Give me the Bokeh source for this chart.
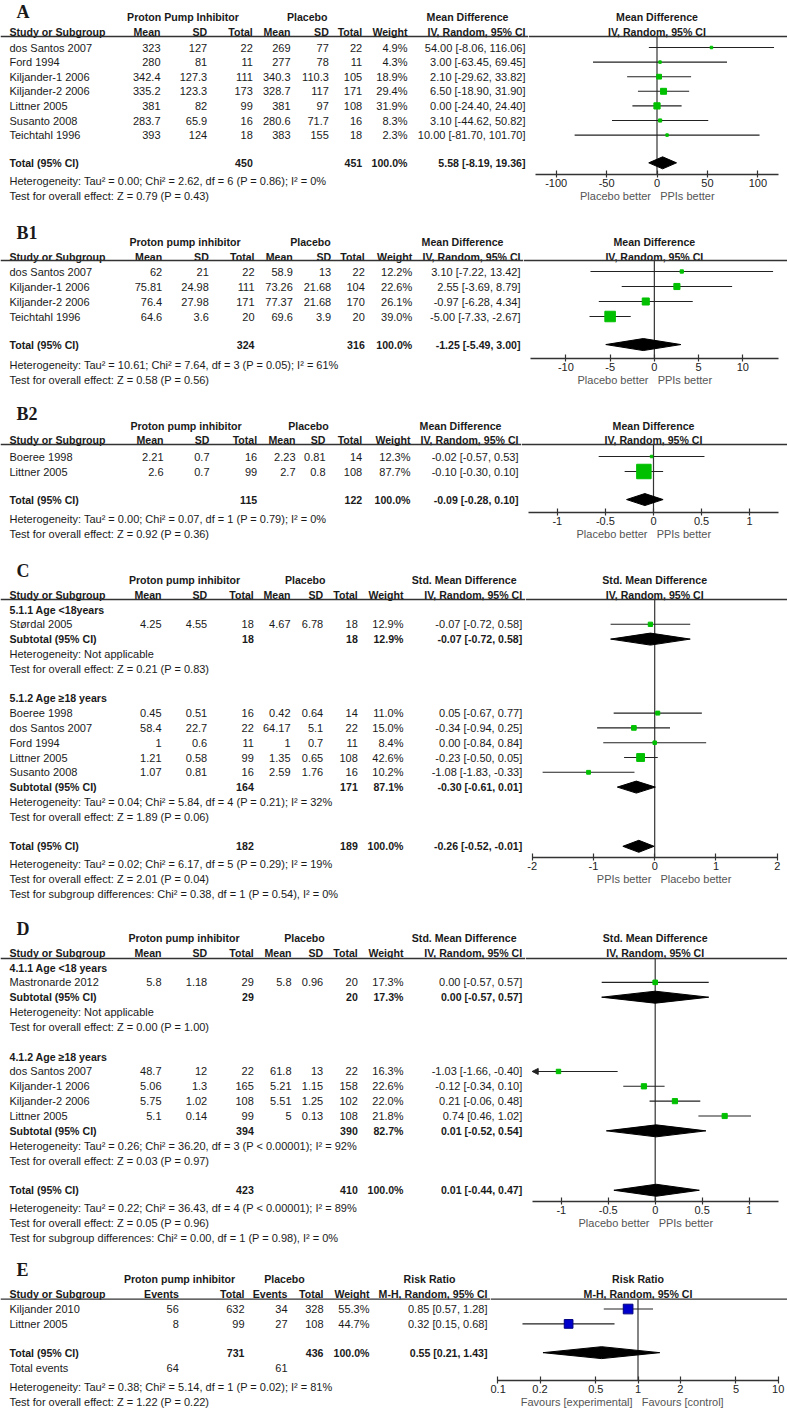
import numpy as np
from bokeh.plotting import figure
from bokeh.models import Range1d, Span, LinearAxis, LogAxis, FixedTicker, Title
from bokeh.layouts import column, row
from bokeh.core.properties import value
from bokeh.embed import file_html
from bokeh.resources import INLINE

# ======================= DATA =======================
# ---- Panel A ----
A_studies = ["dos Santos 2007", "Ford 1994", "Kiljander-1 2006", "Kiljander-2 2006",
             "Littner 2005", "Susanto 2008", "Teichtahl 1996"]
A_ppi_mean = [323, 280, 342.4, 335.2, 381, 283.7, 393]
A_ppi_sd = [127, 81, 127.3, 123.3, 82, 65.9, 124]
A_ppi_n = [22, 11, 111, 173, 99, 16, 18]
A_pla_mean = [269, 277, 340.3, 328.7, 381, 280.6, 383]
A_pla_sd = [77, 78, 110.3, 117, 97, 71.7, 155]
A_pla_n = [22, 11, 105, 171, 108, 16, 18]
A_weight = [4.9, 4.3, 18.9, 29.4, 31.9, 8.3, 2.3]
A_md = [54.00, 3.00, 2.10, 6.50, 0.00, 3.10, 10.00]
A_lo = [-8.06, -63.45, -29.62, -18.90, -24.40, -44.62, -81.70]
A_hi = [116.06, 69.45, 33.82, 31.90, 24.40, 50.82, 101.70]
A_total = [450, 451, 100.0, 5.58, -8.19, 19.36]
A_notes = ["Heterogeneity: Tau² = 0.00; Chi² = 2.62, df = 6 (P = 0.86); I² = 0%",
           "Test for overall effect: Z = 0.79 (P = 0.43)"]
A_ticks = [-100, -50, 0, 50, 100]
A_tick_labels = ["-100", "-50", "0", "50", "100"]
A_axis_label = ("Placebo better", "PPIs better")

# ---- Panel B1 ----
B1_studies = ["dos Santos 2007", "Kiljander-1 2006", "Kiljander-2 2006", "Teichtahl 1996"]
B1_ppi_mean = [62, 75.81, 76.4, 64.6]
B1_ppi_sd = [21, 24.98, 27.98, 3.6]
B1_ppi_n = [22, 111, 171, 20]
B1_pla_mean = [58.9, 73.26, 77.37, 69.6]
B1_pla_sd = [13, 21.68, 21.68, 3.9]
B1_pla_n = [22, 104, 170, 20]
B1_weight = [12.2, 22.6, 26.1, 39.0]
B1_md = [3.10, 2.55, -0.97, -5.00]
B1_lo = [-7.22, -3.69, -6.28, -7.33]
B1_hi = [13.42, 8.79, 4.34, -2.67]
B1_total = [324, 316, 100.0, -1.25, -5.49, 3.00]
B1_notes = ["Heterogeneity: Tau² = 10.61; Chi² = 7.64, df = 3 (P = 0.05); I² = 61%",
            "Test for overall effect: Z = 0.58 (P = 0.56)"]
B1_ticks = [-10, -5, 0, 5, 10]
B1_tick_labels = ["-10", "-5", "0", "5", "10"]
B1_axis_label = ("Placebo better", "PPIs better")

# ---- Panel B2 ----
B2_studies = ["Boeree 1998", "Littner 2005"]
B2_ppi_mean = [2.21, 2.6]
B2_ppi_sd = [0.7, 0.7]
B2_ppi_n = [16, 99]
B2_pla_mean = [2.23, 2.7]
B2_pla_sd = [0.81, 0.8]
B2_pla_n = [14, 108]
B2_weight = [12.3, 87.7]
B2_md = [-0.02, -0.10]
B2_lo = [-0.57, -0.30]
B2_hi = [0.53, 0.10]
B2_total = [115, 122, 100.0, -0.09, -0.28, 0.10]
B2_notes = ["Heterogeneity: Tau² = 0.00; Chi² = 0.07, df = 1 (P = 0.79); I² = 0%",
            "Test for overall effect: Z = 0.92 (P = 0.36)"]
B2_ticks = [-1, -0.5, 0, 0.5, 1]
B2_tick_labels = ["-1", "-0.5", "0", "0.5", "1"]
B2_axis_label = ("Placebo better", "PPIs better")

# ---- Panel C ----
C1_heading = "5.1.1 Age <18years"
C1_studies = ["Størdal 2005"]
C1_ppi_mean = [4.25]
C1_ppi_sd = [4.55]
C1_ppi_n = [18]
C1_pla_mean = [4.67]
C1_pla_sd = [6.78]
C1_pla_n = [18]
C1_weight = [12.9]
C1_smd = [-0.07]
C1_lo = [-0.72]
C1_hi = [0.58]
C1_sub = [18, 18, 12.9, -0.07, -0.72, 0.58]
C1_notes = ["Heterogeneity: Not applicable", "Test for overall effect: Z = 0.21 (P = 0.83)"]
C2_heading = "5.1.2 Age ≥18 years"
C2_studies = ["Boeree 1998", "dos Santos 2007", "Ford 1994", "Littner 2005", "Susanto 2008"]
C2_ppi_mean = [0.45, 58.4, 1, 1.21, 1.07]
C2_ppi_sd = [0.51, 22.7, 0.6, 0.58, 0.81]
C2_ppi_n = [16, 22, 11, 99, 16]
C2_pla_mean = [0.42, 64.17, 1, 1.35, 2.59]
C2_pla_sd = [0.64, 5.1, 0.7, 0.65, 1.76]
C2_pla_n = [14, 22, 11, 108, 16]
C2_weight = [11.0, 15.0, 8.4, 42.6, 10.2]
C2_smd = [0.05, -0.34, 0.00, -0.23, -1.08]
C2_lo = [-0.67, -0.94, -0.84, -0.50, -1.83]
C2_hi = [0.77, 0.25, 0.84, 0.05, -0.33]
C2_sub = [164, 171, 87.1, -0.30, -0.61, 0.01]
C2_notes = ["Heterogeneity: Tau² = 0.04; Chi² = 5.84, df = 4 (P = 0.21); I² = 32%",
            "Test for overall effect: Z = 1.89 (P = 0.06)"]
C_total = [182, 189, 100.0, -0.26, -0.52, -0.01]
C_notes = ["Heterogeneity: Tau² = 0.02; Chi² = 6.17, df = 5 (P = 0.29); I² = 19%",
           "Test for overall effect: Z = 2.01 (P = 0.04)",
           "Test for subgroup differences: Chi² = 0.38, df = 1 (P = 0.54), I² = 0%"]
C_ticks = [-2, -1, 0, 1, 2]
C_tick_labels = ["-2", "-1", "0", "1", "2"]
C_axis_label = ("PPIs better", "Placebo better")

# ---- Panel D ----
D1_heading = "4.1.1 Age <18 years"
D1_studies = ["Mastronarde 2012"]
D1_ppi_mean = [5.8]
D1_ppi_sd = [1.18]
D1_ppi_n = [29]
D1_pla_mean = [5.8]
D1_pla_sd = [0.96]
D1_pla_n = [20]
D1_weight = [17.3]
D1_smd = [0.00]
D1_lo = [-0.57]
D1_hi = [0.57]
D1_sub = [29, 20, 17.3, 0.00, -0.57, 0.57]
D1_notes = ["Heterogeneity: Not applicable", "Test for overall effect: Z = 0.00 (P = 1.00)"]
D2_heading = "4.1.2 Age ≥18 years"
D2_studies = ["dos Santos 2007", "Kiljander-1 2006", "Kiljander-2 2006", "Littner 2005"]
D2_ppi_mean = [48.7, 5.06, 5.75, 5.1]
D2_ppi_sd = [12, 1.3, 1.02, 0.14]
D2_ppi_n = [22, 165, 108, 99]
D2_pla_mean = [61.8, 5.21, 5.51, 5]
D2_pla_sd = [13, 1.15, 1.25, 0.13]
D2_pla_n = [22, 158, 102, 108]
D2_weight = [16.3, 22.6, 22.0, 21.8]
D2_smd = [-1.03, -0.12, 0.21, 0.74]
D2_lo = [-1.66, -0.34, -0.06, 0.46]
D2_hi = [-0.40, 0.10, 0.48, 1.02]
D2_sub = [394, 390, 82.7, 0.01, -0.52, 0.54]
D2_notes = ["Heterogeneity: Tau² = 0.26; Chi² = 36.20, df = 3 (P < 0.00001); I² = 92%",
            "Test for overall effect: Z = 0.03 (P = 0.97)"]
D_total = [423, 410, 100.0, 0.01, -0.44, 0.47]
D_notes = ["Heterogeneity: Tau² = 0.22; Chi² = 36.43, df = 4 (P < 0.00001); I² = 89%",
           "Test for overall effect: Z = 0.05 (P = 0.96)",
           "Test for subgroup differences: Chi² = 0.00, df = 1 (P = 0.98), I² = 0%"]
D_ticks = [-1, -0.5, 0, 0.5, 1]
D_tick_labels = ["-1", "-0.5", "0", "0.5", "1"]
D_axis_label = ("Placebo better", "PPIs better")

# ---- Panel E ----
E_studies = ["Kiljander 2010", "Littner 2005"]
E_ppi_events = [56, 8]
E_ppi_total = [632, 99]
E_pla_events = [34, 27]
E_pla_total = [328, 108]
E_weight = [55.3, 44.7]
E_rr = [0.85, 0.32]
E_lo = [0.57, 0.15]
E_hi = [1.28, 0.68]
E_total = [731, 436, 100.0, 0.55, 0.21, 1.43]
E_total_events = [64, 61]
E_notes = ["Heterogeneity: Tau² = 0.38; Chi² = 5.14, df = 1 (P = 0.02); I² = 81%",
           "Test for overall effect: Z = 1.22 (P = 0.22)"]
E_ticks = [0.1, 0.2, 0.5, 1, 2, 5, 10]
E_tick_labels = ["0.1", "0.2", "0.5", "1", "2", "5", "10"]
E_axis_label = ("Favours [experimental]", "Favours [control]")

# ======================= STYLE / LAYOUT =======================
FONT = "Liberation Sans"
SERIF = "Liberation Serif"
FS = "11px"
FSB = "10.6px"
TXT = "#1a1a1a"
RULE = "#333333"
GREEN = "#00C000"
BLUE = "#0000CC"
TOTAL_W = 787
NB = "\u00a0"
FOOT_GAP = 1.3


def g(v):
    return f"{v:g}"


def ci(e, l, h):
    return f"{e:.2f} [{l:.2f}, {h:.2f}]"


def pct(w):
    return f"{w:.1f}%"


def cont_cols(m1, s1, n1, m2, s2, n2):
    return [[g(a) for a in m1], [g(a) for a in s1], [str(a) for a in n1],
            [g(a) for a in m2], [g(a) for a in s2], [str(a) for a in n2]]


def studies(y0, rh, start, names, cols, weight, est, lo, hi):
    out = []
    for i, nm in enumerate(names):
        out.append(dict(y=y0 + (start + i) * rh, label=nm, bold=False,
                        cells=[c[i] for c in cols], weight=pct(weight[i]),
                        val=ci(est[i], lo[i], hi[i]),
                        mark=("sq", est[i], lo[i], hi[i], weight[i])))
    return out


def summary(y, label, ncols, p1, p2, tot):
    cells = [""] * ncols
    cells[p1] = str(tot[0])
    cells[p2] = str(tot[1])
    return dict(y=y, label=label, bold=True, cells=cells, weight=pct(tot[2]),
                val=ci(tot[3], tot[4], tot[5]), mark=("dia", tot[3], tot[4], tot[5]))


def note(y, text, bold=False, cells=None):
    return dict(y=y, label=text, bold=bold, cells=cells, weight=None, val=None, mark=None)


def foot(text):
    # line printed under the axis level (goes into the table's lower margin)
    return dict(y=None, label=text, bold=False, cells=None, weight=None, val=None, mark=None, foot=True)


# ---- rows (positions are layout slots) ----
y0, rh = 47, 14.6
A_rows = studies(y0, rh, 0, A_studies, cont_cols(A_ppi_mean, A_ppi_sd, A_ppi_n, A_pla_mean, A_pla_sd, A_pla_n),
                 A_weight, A_md, A_lo, A_hi)
A_rows.append(summary(y0 + 7.9 * rh, "Total (95% CI)", 6, 2, 5, A_total))
A_rows += [foot(t) for t in A_notes]

y0, rh = 271, 15
B1_rows = studies(y0, rh, 0, B1_studies, cont_cols(B1_ppi_mean, B1_ppi_sd, B1_ppi_n, B1_pla_mean, B1_pla_sd, B1_pla_n),
                  B1_weight, B1_md, B1_lo, B1_hi)
B1_rows.append(summary(y0 + 4.87 * rh, "Total (95% CI)", 6, 2, 5, B1_total))
B1_rows += [foot(t) for t in B1_notes]

y0, rh = 456, 15
B2_rows = studies(y0, rh, 0, B2_studies, cont_cols(B2_ppi_mean, B2_ppi_sd, B2_ppi_n, B2_pla_mean, B2_pla_sd, B2_pla_n),
                  B2_weight, B2_md, B2_lo, B2_hi)
B2_rows.append(summary(y0 + 2.87 * rh, "Total (95% CI)", 6, 2, 5, B2_total))
B2_rows += [foot(t) for t in B2_notes]

y0, rh = 609, 14.8
C_rows = [note(y0, C1_heading, bold=True)]
C_rows += studies(y0, rh, 1, C1_studies, cont_cols(C1_ppi_mean, C1_ppi_sd, C1_ppi_n, C1_pla_mean, C1_pla_sd, C1_pla_n),
                  C1_weight, C1_smd, C1_lo, C1_hi)
C_rows.append(summary(y0 + 2 * rh, "Subtotal (95% CI)", 6, 2, 5, C1_sub))
C_rows += [note(y0 + 3 * rh, C1_notes[0]), note(y0 + 4 * rh, C1_notes[1])]
C_rows.append(note(y0 + 6 * rh, C2_heading, bold=True))
C_rows += studies(y0, rh, 7, C2_studies, cont_cols(C2_ppi_mean, C2_ppi_sd, C2_ppi_n, C2_pla_mean, C2_pla_sd, C2_pla_n),
                  C2_weight, C2_smd, C2_lo, C2_hi)
C_rows.append(summary(y0 + 12 * rh, "Subtotal (95% CI)", 6, 2, 5, C2_sub))
C_rows += [note(y0 + 13 * rh, C2_notes[0]), note(y0 + 14 * rh, C2_notes[1])]
C_rows.append(summary(y0 + 16 * rh, "Total (95% CI)", 6, 2, 5, C_total))
C_rows += [foot(t) for t in C_notes]

y0, rh = 967, 14.85
D_rows = [note(y0, D1_heading, bold=True)]
D_rows += studies(y0, rh, 1, D1_studies, cont_cols(D1_ppi_mean, D1_ppi_sd, D1_ppi_n, D1_pla_mean, D1_pla_sd, D1_pla_n),
                  D1_weight, D1_smd, D1_lo, D1_hi)
D_rows.append(summary(y0 + 2 * rh, "Subtotal (95% CI)", 6, 2, 5, D1_sub))
D_rows += [note(y0 + 3 * rh, D1_notes[0]), note(y0 + 4 * rh, D1_notes[1])]
D_rows.append(note(y0 + 6 * rh, D2_heading, bold=True))
D_rows += studies(y0, rh, 7, D2_studies, cont_cols(D2_ppi_mean, D2_ppi_sd, D2_ppi_n, D2_pla_mean, D2_pla_sd, D2_pla_n),
                  D2_weight, D2_smd, D2_lo, D2_hi)
D_rows.append(summary(y0 + 11 * rh, "Subtotal (95% CI)", 6, 2, 5, D2_sub))
D_rows += [note(y0 + 12 * rh, D2_notes[0]), note(y0 + 13 * rh, D2_notes[1])]
D_rows.append(summary(y0 + 15 * rh, "Total (95% CI)", 6, 2, 5, D_total))
D_rows += [foot(t) for t in D_notes]

y0, rh = 1309, 15
E_cols = [[str(a) for a in E_ppi_events], [str(a) for a in E_ppi_total],
          [str(a) for a in E_pla_events], [str(a) for a in E_pla_total]]
E_rows = studies(y0, rh, 0, E_studies, E_cols, E_weight, E_rr, E_lo, E_hi)
E_rows.append(summary(y0 + 2.93 * rh, "Total (95% CI)", 4, 1, 3, E_total))
E_rows.append(note(y0 + 3.93 * rh, "Total events", cells=[str(E_total_events[0]), "", str(E_total_events[1]), ""]))
E_rows += [foot(t) for t in E_notes]

CONT_NAMES = ["Mean", "SD", "Total", "Mean", "SD", "Total"]

panels = [
    dict(name="A", band=(0, 207), label_y=11, grp_y=16.7, col_y=31.7, rule_y=36, axis_y=174,
         split=528, frame=(535, 778), nominal=(-120.5, 120.5), log=False, null=0,
         ticks=A_ticks, tick_labels=A_tick_labels, axis_label=A_axis_label, axis_center=647.5,
         size=(1.1, 0.5), color=GREEN, cols=[160, 206.7, 252.3, 290, 328.3, 361.7], col_names=CONT_NAMES,
         weight_x=407, val_x=525, grp_x=(182.5, 306.7), grp=("Proton Pump Inhibitor", "Placebo"),
         eff=("Mean Difference", "IV, Random, 95% CI"), rows=A_rows),
    dict(name="B1", band=(207, 389), label_y=232, grp_y=241, col_y=256, rule_y=260, axis_y=358,
         split=523, frame=(530, 777.7), nominal=(-14, 14), log=False, null=0,
         ticks=B1_ticks, tick_labels=B1_tick_labels, axis_label=B1_axis_label, axis_center=644.5,
         size=(0.27, 1.0), color=GREEN, cols=[161.7, 208.3, 254, 292.3, 330.7, 364.3], col_names=CONT_NAMES,
         weight_x=411.7, val_x=520, grp_x=(184.5, 310), grp=("Proton pump inhibitor", "Placebo"),
         eff=("Mean Difference", "IV, Random, 95% CI"), rows=B1_rows),
    dict(name="B2", band=(389, 543), label_y=413, grp_y=425, col_y=439, rule_y=444, axis_y=512,
         split=521, frame=(528, 778), nominal=(-1.3, 1.3), log=False, null=0,
         ticks=B2_ticks, tick_labels=B2_tick_labels, axis_label=B2_axis_label, axis_center=643.7,
         size=(0.165, 1.0), color=GREEN, cols=[163, 209, 256.7, 295, 325, 361.7], col_names=CONT_NAMES,
         weight_x=410, val_x=518, grp_x=(185.5, 308), grp=("Proton pump inhibitor", "Placebo"),
         eff=("Mean Difference", "IV, Random, 95% CI"), rows=B2_rows),
    dict(name="C", band=(543, 903), label_y=570, grp_y=579, col_y=594, rule_y=599, axis_y=857,
         split=525, frame=(531.7, 776.7), nominal=(-2, 2), log=False, null=0,
         ticks=C_ticks, tick_labels=C_tick_labels, axis_label=C_axis_label, axis_center=663,
         size=(1.2, 0.5), color=GREEN, cols=[161, 206.7, 253.3, 290, 322.7, 357.3], col_names=CONT_NAMES,
         weight_x=403, val_x=521.7, grp_x=(184, 304.7), grp=("Proton pump inhibitor", "Placebo"),
         eff=("Std. Mean Difference", "IV, Random, 95% CI"), rows=C_rows),
    dict(name="D", band=(903, 1246), label_y=928, grp_y=937, col_y=952, rule_y=958, axis_y=1201,
         split=525, frame=(531.7, 777.7), nominal=(-1.31, 1.31), log=False, null=0,
         ticks=D_ticks, tick_labels=D_tick_labels, axis_label=D_axis_label, axis_center=645,
         size=(1.1, 0.5), color=GREEN, cols=[161, 206.7, 253.3, 291, 322.7, 357.3], col_names=CONT_NAMES,
         weight_x=403, val_x=521.7, grp_x=(183.5, 304), grp=("Proton pump inhibitor", "Placebo"),
         eff=("Std. Mean Difference", "IV, Random, 95% CI"), rows=D_rows),
    dict(name="E", band=(1246, 1410), label_y=1270, grp_y=1279, col_y=1294, rule_y=1299, axis_y=1381,
         split=490, frame=(497.3, 777.7), nominal=(0.1, 10), log=True, null=1,
         ticks=E_ticks, tick_labels=E_tick_labels, axis_label=E_axis_label, axis_center=621,
         size=(1.3, 0.5), color=BLUE, cols=[178.3, 244, 287, 323], col_names=["Events", "Total", "Events", "Total"],
         weight_x=369, val_x=487, grp_x=(179, 284), grp=("Proton pump inhibitor", "Placebo"),
         eff=("Risk Ratio", "M-H, Random, 95% CI"), rows=E_rows),
]


def clean(p):
    p.outline_line_color = None
    p.background_fill_color = "white"
    p.border_fill_color = "white"
    p.xgrid.visible = False
    p.ygrid.visible = False


def add_texts(p, items):
    groups = {}
    for x, y, t, al, st, fnt, fs in items:
        key = (al, st, fnt, fs)
        groups.setdefault(key, ([], [], []))
        groups[key][0].append(x)
        groups[key][1].append(y)
        groups[key][2].append(t)
    for (al, st, fnt, fs), (gx, gy, gt) in groups.items():
        p.text(x=gx, y=gy, text=gt, text_align=value(al), text_baseline=value("middle"),
               text_font=value(fnt), text_font_size=value(fs), text_font_style=value(st),
               text_color=TXT)


def make_panel(c):
    top, bot = c["band"]
    H = bot - top
    fl, fr = c["frame"]
    lw = c["split"]
    rw = TOTAL_W - lw
    axis_y = c["axis_y"]
    mbb = bot - axis_y
    y_start = axis_y

    # ---------- left: table ----------
    L = figure(width=lw, height=H, x_range=Range1d(0, lw), y_range=Range1d(y_start, top),
               output_backend="svg", toolbar_location=None, title=None,
               x_axis_location=None, y_axis_location=None,
               min_border_left=0, min_border_right=0, min_border_top=0, min_border_bottom=mbb)
    clean(L)
    items = [(16, c["label_y"], c["name"], "left", "bold", SERIF, "18px")]
    items.append((c["grp_x"][0], c["grp_y"], c["grp"][0], "center", "bold", FONT, FSB))
    items.append((c["grp_x"][1], c["grp_y"], c["grp"][1], "center", "bold", FONT, FSB))
    items.append((c["val_x"] - 58, c["grp_y"], c["eff"][0], "center", "bold", FONT, FSB))
    items.append((c["val_x"], c["col_y"], c["eff"][1], "right", "bold", FONT, FSB))
    items.append((9, c["col_y"], "Study or Subgroup", "left", "bold", FONT, FSB))
    for x, t in zip(c["cols"], c["col_names"]):
        items.append((x, c["col_y"], t, "right", "bold", FONT, FSB))
    items.append((c["weight_x"], c["col_y"], "Weight", "right", "bold", FONT, FSB))
    for r in c["rows"]:
        if r.get("foot"):
            L.add_layout(Title(text=r["label"], align="left", offset=9, standoff=FOOT_GAP,
                               vertical_align="top",
                               text_font=FONT, text_font_size=FS, text_font_style="normal",
                               text_color=TXT), "below")
            continue
        st = "bold" if r["bold"] else "normal"
        fs = FSB if r["bold"] else FS
        items.append((9, r["y"], r["label"], "left", st, FONT, fs))
        if r["cells"]:
            for x, t in zip(c["cols"], r["cells"]):
                if t:
                    items.append((x, r["y"], t, "right", st, FONT, fs))
        if r["weight"]:
            items.append((c["weight_x"], r["y"], r["weight"], "right", st, FONT, fs))
        if r["val"]:
            items.append((c["val_x"], r["y"], r["val"], "right", st, FONT, fs))
    add_texts(L, items)
    L.add_layout(Span(location=c["rule_y"], dimension="width", line_color=RULE, line_width=1.3))

    # ---------- right: forest plot ----------
    n0, n1 = c["nominal"]
    log = c["log"]
    f = np.log10 if log else (lambda v: v)
    a0, a1 = f(n0), f(n1)
    ppu = (fr - fl) / (a1 - a0)
    d0 = a0 + (lw - fl) / ppu
    d1 = a1 + (TOTAL_W - fr) / ppu
    if log:
        d0, d1 = 10 ** d0, 10 ** d1
    R = figure(width=rw, height=H, x_range=Range1d(d0, d1), y_range=Range1d(y_start, top),
               x_axis_type="log" if log else "linear", output_backend="svg", toolbar_location=None,
               title=None, x_axis_location=None, y_axis_location=None,
               min_border_left=0, min_border_right=0, min_border_top=0, min_border_bottom=mbb)
    clean(R)
    R.add_layout(Span(location=c["rule_y"], dimension="width", line_color=RULE, line_width=1.3))
    nv = c["null"]
    R.segment(x0=[nv], x1=[nv], y0=[c["rule_y"]], y1=[y_start], line_color="#333333", line_width=1.2)
    add_texts(R, [(nv, c["grp_y"], c["eff"][0], "center", "bold", FONT, FSB),
                  (nv, c["col_y"], c["eff"][1], "center", "bold", FONT, FSB)])

    s_k, s_p = c["size"]
    sx_, sy_, ss_ = [], [], []
    cx0, cx1, cy = [], [], []
    dxs, dys = [], []
    arr_x, arr_y = [], []
    for r in c["rows"]:
        m = r["mark"]
        if m is None:
            continue
        y = r["y"]
        if m[0] == "sq":
            _, e, lo, hi, w = m
            sx_.append(e)
            sy_.append(y)
            ss_.append(max(2.5, s_k * w ** s_p))
            cx0.append(max(lo, n0))
            cx1.append(min(hi, n1))
            cy.append(y)
            if lo < n0:
                tip = f(n0)
                tail = tip + 6 / ppu
                if log:
                    tip, tail = 10 ** tip, 10 ** tail
                arr_x.append([tip, tail, tail])
                arr_y.append([y, y - 3, y + 3])
        else:
            _, e, lo, hi = m
            dxs.append([lo, e, hi, e])
            dys.append([y, y - 6, y, y + 6])
    R.segment(x0=cx0, x1=cx1, y0=cy, y1=cy, line_color="#222222", line_width=1.1)
    if arr_x:
        R.patches(xs=arr_x, ys=arr_y, fill_color="#222222", line_color="#222222")
    edge = "#000080" if c["color"] == BLUE else c["color"]
    R.scatter(x=sx_, y=sy_, size=ss_, marker="square", fill_color=c["color"], line_color=edge)
    R.patches(xs=dxs, ys=dys, fill_color="black", line_color="black")

    # axis label, re-centred with non-breaking padding
    lab = c["axis_label"][0] + NB * 3 + c["axis_label"][1]
    shift = (c["axis_center"] - lw) - rw / 2.0
    npad = int(round(2 * abs(shift) / 3.06))
    lab = lab + NB * npad if shift < 0 else NB * npad + lab

    AxisCls = LogAxis if log else LinearAxis
    overrides = {}
    for t, l in zip(c["ticks"], c["tick_labels"]):
        key = int(t) if float(t).is_integer() else float(t)
        overrides[key] = l
    if log:
        bounds = (n0 * (1 - 1e-9), n1 * (1 + 1e-9))
    else:
        bounds = (n0 - 1e-9, n1 + 1e-9)
    ax = AxisCls(bounds=bounds, ticker=FixedTicker(ticks=list(c["ticks"]), minor_ticks=[]),
                 major_label_overrides=overrides,
                 axis_line_color="#333333", axis_line_width=1.3,
                 major_tick_line_color="#333333", major_tick_line_width=1.2,
                 major_tick_in=4, major_tick_out=3, minor_tick_line_color=None,
                 major_label_text_font=FONT, major_label_text_font_size=FS,
                 major_label_text_color="#222222", major_label_standoff=1,
                 axis_label=lab, axis_label_text_font=FONT, axis_label_text_font_size=FS,
                 axis_label_text_font_style="normal", axis_label_text_color="#555555",
                 axis_label_standoff=0)
    R.add_layout(ax, "below")
    return row(L, R, spacing=0)


layout = column(*[make_panel(c) for c in panels], spacing=0)
with open("out.html", "w") as fh:
    fh.write(file_html(layout, INLINE, title="Forest plots"))
